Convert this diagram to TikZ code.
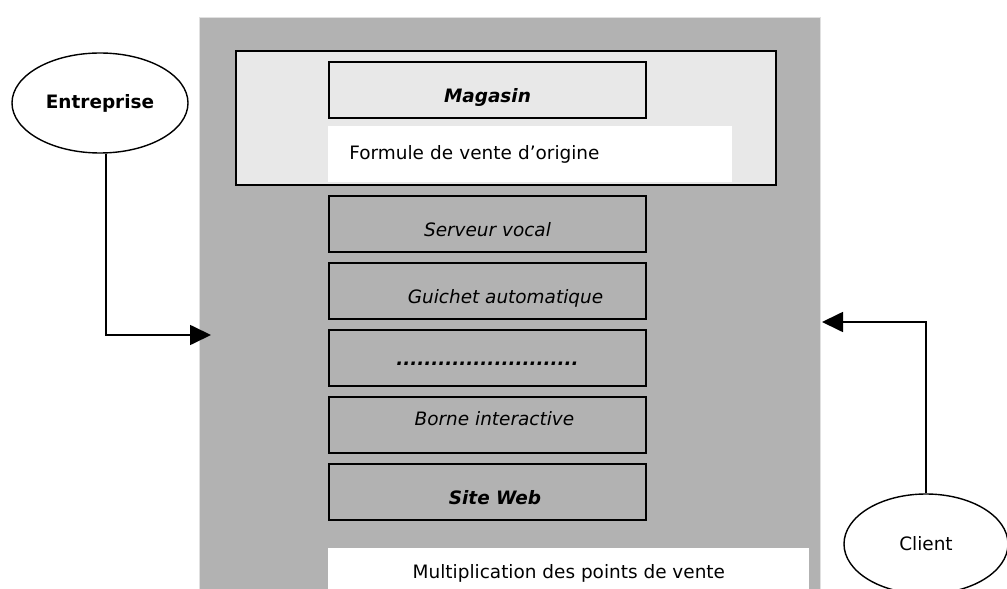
\documentclass[tikz,border=0pt]{standalone}
\usepackage{fontspec}
\setmainfont{DejaVu Sans}
\usetikzlibrary{positioning,shapes,arrows.meta}

\definecolor{fondgris}{gray}{0.70}
\definecolor{cadregris}{gray}{0.91}

\begin{document}
\begin{tikzpicture}[
    font=\fontsize{10.5}{12.6}\selectfont,
    acteur/.style={draw, ellipse, line width=0.8pt, fill=white, minimum height=2cm},
    canal/.style={draw, rectangle, line width=1.1pt, minimum width=6.34cm, minimum height=1.12cm, anchor=north west, text height=0.49cm, text depth=0cm},
    bandeau/.style={rectangle, fill=white, anchor=north west},
    arrow/.style={-{Triangle[length=0.42cm,width=0.4cm]}, line width=1pt}
]

\useasboundingbox (0,0) rectangle (20.14,-11.78);

% Fond gris
\node[rectangle, fill=fondgris, draw=black!12, minimum width=12.42cm, minimum height=11.7cm, anchor=north west] (fond) at (3.98,-0.34) {};

% Formule d'origine
\node[rectangle, draw, line width=1.1pt, fill=cadregris, minimum width=10.8cm, minimum height=2.68cm, anchor=north west] (origine) at (4.7,-1.0) {};
\node[canal, fill=cadregris] (magasin) at (6.56,-1.22) {\textbf{\textit{Magasin}}};
\node[bandeau, text width=7.24cm, inner xsep=0.42cm, minimum height=1.12cm, align=left] (formule) at (6.56,-2.52) {Formule de vente d’origine};

% Canaux
\node[canal] (serveur) at (6.56,-3.9) {\textit{Serveur vocal}};
\node[canal] (guichet) at (6.56,-5.24) {\hspace*{0.72cm}\textit{Guichet automatique}};
\node[canal, text height=0.3cm] (autres) at (6.56,-6.58) {\textbf{\textit{..........................}}};
\node[canal, text height=0.3cm, text depth=0.26cm] (borne) at (6.56,-7.92) {\hspace*{0.28cm}\textit{Borne interactive}};
\node[canal] (site) at (6.56,-9.26) {\hspace*{0.3cm}\textbf{\textit{Site Web}}};

% Multiplication
\node[bandeau, minimum width=9.62cm, minimum height=1cm] (multi) at (6.56,-10.96) {Multiplication des points de vente};

% Acteurs
\node[acteur, minimum width=3.52cm] (entreprise) at (2.0,-2.06) {\textbf{Entreprise}};
\node[acteur, minimum width=3.28cm] (client) at (18.52,-10.88) {Client};

% Connexions
\coordinate (cible_ent) at (4.22,-6.7);
\coordinate (cible_cli) at (16.44,-6.44);
\draw[arrow] ([xshift=0.12cm]entreprise.south) |- (cible_ent);
\draw[arrow] (client.north) |- (cible_cli);

\end{tikzpicture}
\end{document}
